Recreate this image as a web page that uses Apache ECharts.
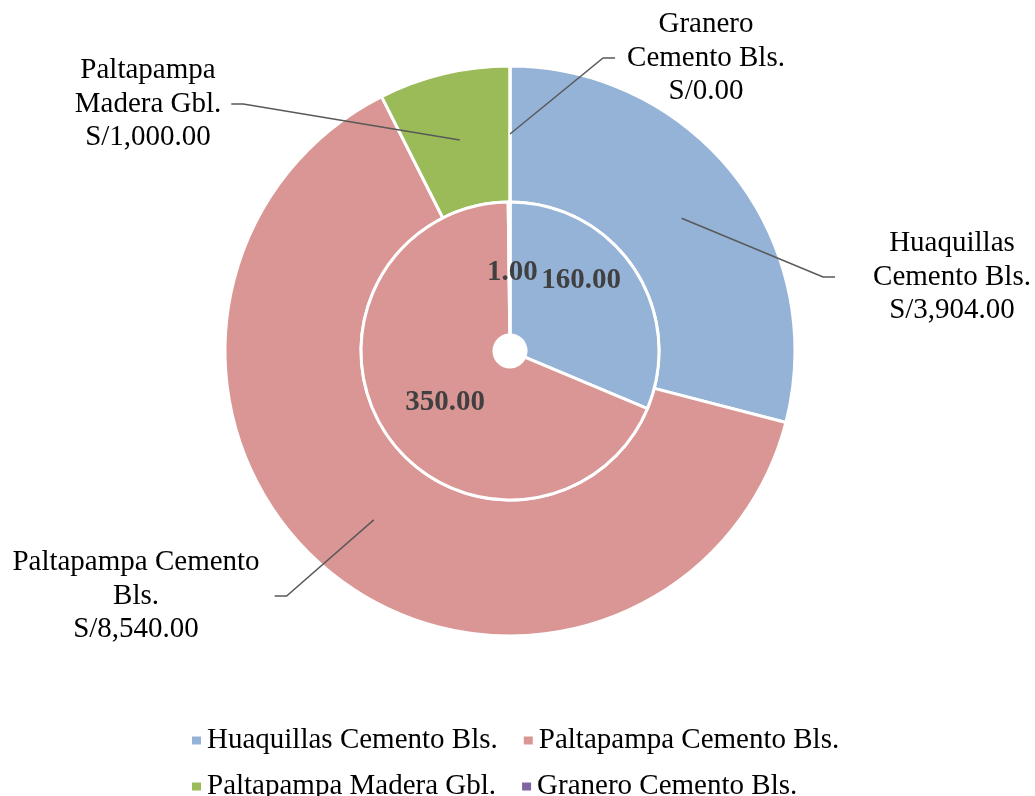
<!DOCTYPE html>
<html><head><meta charset="utf-8">
<script src="https://cdn.jsdelivr.net/npm/echarts@6/dist/echarts.min.js"></script>
<style>html,body{margin:0;padding:0;background:#fff}#c{width:1035px;height:796px}</style>
</head><body><div id="c"></div>
<script>
// ---- data ----
const categories = ['Huaquillas Cemento Bls.', 'Paltapampa Cemento Bls.', 'Paltapampa Madera Gbl.', 'Granero Cemento Bls.'];
const outerValues = [3904, 8540, 1000, 0];
const innerValues = [160, 350, 1, 0];
const outerLabelNames = ['Huaquillas\nCemento Bls.', 'Paltapampa Cemento\nBls.', 'Paltapampa\nMadera Gbl.', 'Granero\nCemento Bls.'];
const colors = ['#95B3D7', '#D99694', '#9BBB59', '#8064A2'];

// ---- layout / style ----
const FONT = "'Liberation Serif','Times New Roman',serif";
const CENTER = [510, 351];
// outer label block centres and paddings (layout only)
const labelPlace = [
  { x: 938, y: 277, padding: [0, 10, 0, 38] },
  { x: 136, y: 596, padding: [0, 15, 0, 15] },
  { x: 148, y: 104, padding: [0, 10, 0, 10] },
  { x: 706, y: 58, padding: [0, 12, 0, 12] }
];
// inner label nudges (layout only)
const innerOffsets = [[0, -23], [6, 4], [3, 7], [0, 0]];

const fmt = v => v.toLocaleString('en-US', { minimumFractionDigits: 2, maximumFractionDigits: 2 });

const legendBase = {
  left: 185, orient: 'horizontal',
  itemWidth: 11, itemHeight: 10, itemGap: 24,
  icon: 'rect',
  textStyle: { fontFamily: FONT, fontSize: 29, color: '#000' }
};

const chart = echarts.init(document.getElementById('c'), null, { renderer: 'canvas' });
chart.setOption({
  animation: false,
  color: colors,
  legend: [
    Object.assign({}, legendBase, { data: categories.slice(0, 2), top: 721 }),
    Object.assign({}, legendBase, { data: categories.slice(2, 4), top: 767 })
  ],
  series: [
    {
      name: 'outer', type: 'pie', center: CENTER, radius: [149, 285],
      startAngle: 90, clockwise: true, avoidLabelOverlap: false, silent: true,
      itemStyle: { borderColor: '#fff', borderWidth: 3 },
      label: { show: false }, labelLine: { show: false },
      data: categories.map((n, i) => ({ name: n, value: outerValues[i] }))
    },
    {
      name: 'inner', type: 'pie', center: CENTER, radius: [16, 149],
      startAngle: 90, clockwise: true, avoidLabelOverlap: false, silent: true,
      itemStyle: { borderColor: '#fff', borderWidth: 3 },
      label: {
        show: true, position: 'inside', fontFamily: FONT, fontSize: 29, fontWeight: 'bold', color: '#404040',
        formatter: p => p.value ? fmt(p.value) : ''
      },
      labelLine: { show: false },
      data: categories.map((n, i) => ({ name: n, value: innerValues[i], label: { offset: innerOffsets[i] } }))
    },
    {
      name: 'outerLabels', type: 'pie', center: CENTER, radius: [149, 217], z: 5,
      startAngle: 90, clockwise: true, avoidLabelOverlap: false, silent: true,
      itemStyle: { color: 'rgba(0,0,0,0)', borderWidth: 0 },
      emphasis: { disabled: true },
      label: {
        show: true, position: 'outside', fontFamily: FONT, fontSize: 29, color: '#000',
        lineHeight: 33.5, align: 'center',
        formatter: p => outerLabelNames[p.dataIndex] + '\nS/' + fmt(p.value)
      },
      labelLine: { show: true, length: 20, length2: 12, lineStyle: { color: '#595959', width: 1.5 } },
      labelLayout: p => ({ x: labelPlace[p.dataIndex].x, y: labelPlace[p.dataIndex].y, align: 'center', verticalAlign: 'middle' }),
      data: categories.map((n, i) => ({ name: n, value: outerValues[i], label: { padding: labelPlace[i].padding } }))
    }
  ]
});
</script></body></html>
